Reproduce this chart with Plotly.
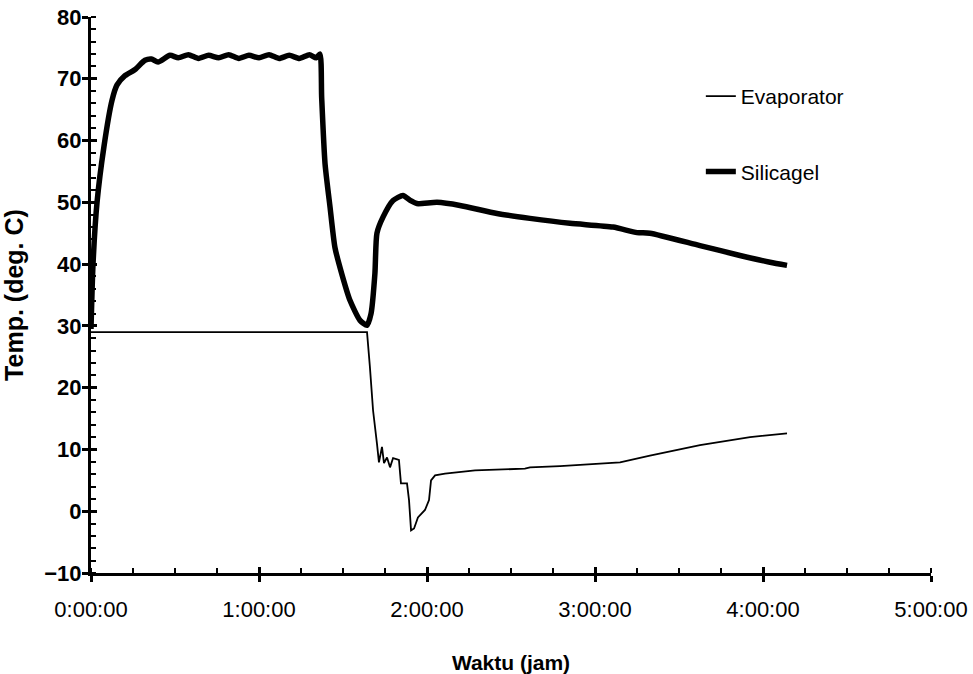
import plotly.graph_objects as go

# Time in hours
sil_x = [0, 0.012, 0.036, 0.077, 0.125, 0.155, 0.202, 0.262, 0.321, 0.36, 0.399, 0.470,
         0.52, 0.58, 0.64, 0.70, 0.76, 0.82, 0.88, 0.94, 1.00, 1.06, 1.12, 1.18, 1.24,
         1.30, 1.34, 1.363,
         1.373, 1.393, 1.423, 1.452, 1.492, 1.542, 1.601, 1.643, 1.667, 1.690, 1.702,
         1.738, 1.798, 1.857, 1.90, 1.94, 2.06, 2.196, 2.417, 2.613, 2.851, 3.107,
         3.25, 3.327, 3.625, 3.863, 4.042, 4.143]
sil_y = [29.5, 40, 50, 59, 66.5, 69, 70.5, 71.5, 73, 73.2, 72.7, 73.8,
         73.4, 73.9, 73.3, 73.8, 73.4, 73.9, 73.3, 73.8, 73.4, 73.9, 73.3, 73.8, 73.3,
         73.9, 73.4, 74,
         67, 56.3, 49.2, 42.7, 38.5, 34.1, 30.9, 30.1, 32, 38.5, 45,
         47.6, 50.3, 51.1, 50.3, 49.8, 50, 49.5, 48.2, 47.4, 46.6, 46,
         45.1, 45, 43, 41.4, 40.3, 39.8]

evap_x = [0, 0.3, 0.6, 0.9, 1.2, 1.5, 1.643, 1.66, 1.679, 1.702, 1.714, 1.732, 1.744,
          1.762, 1.78, 1.798, 1.833, 1.845, 1.881, 1.893, 1.905, 1.923, 1.946, 1.988,
          2.012, 2.024, 2.048, 2.107, 2.167, 2.286, 2.583, 2.613, 2.792, 2.97, 3.149,
          3.327, 3.625, 3.923, 4.143]
evap_y = [29, 29, 29.1, 29, 29, 29.1, 29, 23.4, 16.3, 11, 7.9, 10.4, 7.8,
          8.7, 7.1, 8.6, 8.3, 4.5, 4.5, 1.8, -3.1, -2.8, -1, 0.2,
          1.8, 5, 5.8, 6.1, 6.3, 6.6, 6.9, 7.1, 7.3, 7.6, 7.9,
          9, 10.7, 12, 12.6]

x_tickvals = [0, 1, 2, 3, 4, 5]
x_ticktext = ["0:00:00", "1:00:00", "2:00:00", "3:00:00", "4:00:00", "5:00:00"]
y_tickvals = [-10, 0, 10, 20, 30, 40, 50, 60, 70, 80]
x_range = [0, 5]
y_range = [-10, 80]

FONT = "Liberation Sans, Arial, sans-serif"

fig = go.Figure()
fig.add_trace(go.Scatter(x=evap_x, y=evap_y, mode="lines", name="Evaporator",
                         line=dict(color="black", width=1.8), legendgroup="e"))
fig.add_trace(go.Scatter(x=sil_x, y=sil_y, mode="lines", name="Silicagel",
                         line=dict(color="black", width=5.5, shape="spline", smoothing=0.6),
                         legendgroup="s"))
# empty helper trace so the overlay axes (inner half of crossing ticks) are drawn
fig.add_trace(go.Scatter(x=[None], y=[None], xaxis="x2", yaxis="y2",
                         showlegend=False, hoverinfo="skip"))

fig.update_layout(
    width=973, height=674,
    margin=dict(l=91, r=42, t=17, b=101, autoexpand=False),
    plot_bgcolor="white", paper_bgcolor="white",
    font=dict(family=FONT, color="black", size=21),
    showlegend=True,
    legend=dict(x=0.726, y=0.894, xanchor="left", yanchor="top",
                bgcolor="rgba(0,0,0,0)", tracegroupgap=45,
                font=dict(size=21, family=FONT)),
    xaxis=dict(range=x_range, tickvals=x_tickvals, ticktext=x_ticktext, automargin=False,
               showgrid=False, zeroline=False, showline=True, linecolor="black",
               linewidth=3, ticks="outside", ticklen=6, tickwidth=3, tickcolor="black",
               ticklabelstandoff=9, ticklabeloverflow="allow",
               minor=dict(dtick=0.25, ticks="inside", ticklen=5, tickwidth=2,
                          tickcolor="black", showgrid=False),
               tickfont=dict(size=22, family=FONT),
               title=dict(text="<b>Waktu (jam)</b>", font=dict(size=21, family=FONT),
                          standoff=39)),
    yaxis=dict(range=y_range, tickvals=y_tickvals, automargin=False,
               showgrid=False, zeroline=False, showline=True, linecolor="black",
               linewidth=3, ticks="outside", ticklen=6, tickwidth=3, tickcolor="black",
               ticklabelstandoff=-4, ticklabeloverflow="allow",
               minor=dict(dtick=2, ticks="inside", ticklen=5, tickwidth=2,
                          tickcolor="black", showgrid=False),
               tickfont=dict(size=22, family=FONT, weight="bold"),
               title=dict(text="<b>Temp. (deg. C)</b>", font=dict(size=25, family=FONT),
                          standoff=35)),
    xaxis2=dict(overlaying="x", range=x_range, tickvals=x_tickvals, showticklabels=False,
                showgrid=False, zeroline=False, showline=False, automargin=False,
                ticks="inside", ticklen=6, tickwidth=3, tickcolor="black", anchor="y2"),
    yaxis2=dict(overlaying="y", range=y_range, tickvals=y_tickvals, showticklabels=False,
                showgrid=False, zeroline=False, showline=False, automargin=False,
                ticks="inside", ticklen=6, tickwidth=3, tickcolor="black", anchor="x2"),
)

# remove the browser's default 8px body margin so the 973x674 figure fills the window
fig.write_html("out.html", config={"displayModeBar": False},
               post_script="document.body.style.margin='0px';")
